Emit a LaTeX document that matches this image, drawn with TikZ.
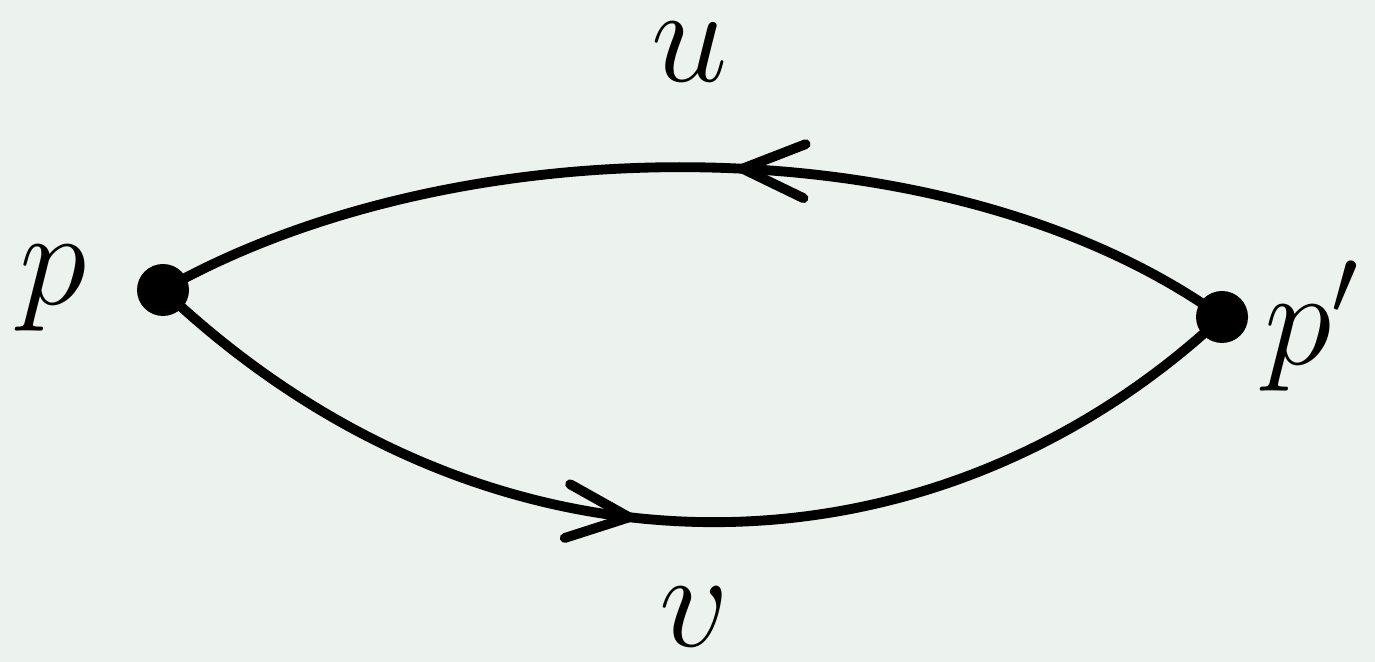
\RequirePackage{fix-cm}
\documentclass[tikz,border=0pt]{standalone}
\usepackage{amsmath, amssymb}
\usepackage{tikz}
\usetikzlibrary{positioning,arrows.meta,decorations.markings}
\definecolor{paper}{RGB}{236,242,238}
\tikzset{
  pathline/.style={line width=2.8pt, line cap=round},
  dotnode/.style={circle, fill=black, inner sep=0pt, minimum size=0.52cm},
  biglabel/.style={font=\fontsize{39}{45}\selectfont, inner sep=0pt},
  midarrow/.style={postaction={decorate}, decoration={markings,
      mark=at position #1 with {\arrow{Straight Barb[length=6.2mm, width=5.4mm, line width=2.8pt, line cap=round]}}}}
}

\begin{document}
\begin{tikzpicture}
  \useasboundingbox[fill=paper] (0,0) rectangle (13.75,6.62);
  \node[dotnode] (p) at (1.63,3.72) {};
  \node[dotnode] (pp) at (12.22,3.45) {};
  \node[biglabel] (plabel) at (0.53,3.74) {$p$};
  \node[biglabel] (pplabel) at (13.12,3.36) {$p'$};
  \node[biglabel] (ulabel) at (6.9,6.1) {$u$};
  \node[biglabel] (vlabel) at (6.94,0.45) {$v$};
  % upper path, p' back to p
  \draw[pathline, midarrow=0.47] (pp.center) .. controls (9.5,5.4) and (4.6,5.4) .. (p.center);
  % lower path, p to p'
  \draw[pathline, midarrow=0.46] (p.center) .. controls (4.9,0.62) and (9.3,0.72) .. (pp.center);
\end{tikzpicture}
\end{document}
